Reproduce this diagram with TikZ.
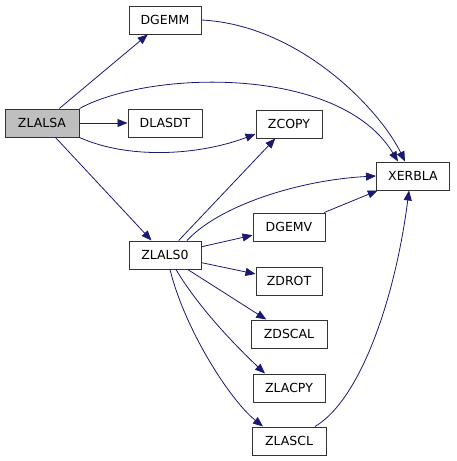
\documentclass[tikz,border=0pt]{standalone}
\usepackage{fontspec}
\setmainfont{DejaVu Sans}
\usetikzlibrary{arrows.meta}
\usetikzlibrary{calc}
\definecolor{callblue}{HTML}{191970}
\definecolor{rootgray}{HTML}{BFBFBF}

\begin{document}
\begin{tikzpicture}[x=1pt,y=-1pt]
  \tikzset{fnbox/.style={minimum width=#1,minimum height=28pt,draw=black!80,line width=1pt,fill=white,
                         inner sep=0pt,font=\fontsize{12.5}{14}\selectfont},
           rootbox/.style={fnbox=#1,fill=rootgray},
           calls/.style={-{Triangle[length=10pt,width=8pt]},line width=0.8pt,callblue}}
  \useasboundingbox (0,0) rectangle (456,461);
  \node[rootbox=74pt] (zlalsa) at (42,123) {ZLALSA};
  \node[fnbox=72pt] (dgemm) at (165,20) {DGEMM};
  \node[fnbox=74pt] (dlasdt) at (165,123) {DLASDT};
  \node[fnbox=72pt] (zlals0) at (165,255) {ZLALS0};
  \node[fnbox=66pt] (zcopy) at (289,124) {ZCOPY};
  \node[fnbox=72pt] (dgemv) at (289,227) {DGEMV};
  \node[fnbox=66pt] (zdrot) at (289,281) {ZDROT};
  \node[fnbox=76pt] (zdscal) at (289,334) {ZDSCAL};
  \node[fnbox=72pt] (zlacpy) at (289,388) {ZLACPY};
  \node[fnbox=74pt] (zlascl) at (289,441) {ZLASCL};
  \node[fnbox=73pt] (xerbla) at (413,176) {XERBLA};

  \draw[calls] (zlalsa) -- (dgemm);
  \draw[calls] (zlalsa) -- (dlasdt);
  \draw[calls] (zlalsa) -- (zlals0);
  \draw[calls] (zlalsa.north east) .. controls (150,70) and (340,65) .. ([xshift=-15pt]xerbla.north);
  \draw[calls] (zlalsa.south east) .. controls (130,160) and (200,155) .. ([yshift=-10pt]zcopy.west);
  \draw[calls] (dgemm.east) .. controls (300,25) and (380,110) .. ([xshift=-8pt]xerbla.north);
  \draw[calls] (zlals0) -- (zcopy);
  \draw[calls] ([xshift=22pt]zlals0.north) .. controls (220,205) and (300,180) .. (xerbla.west);
  \draw[calls] (zlals0) -- (dgemv);
  \draw[calls] (zlals0) -- (zdrot);
  \draw[calls] (zlals0) -- (zdscal);
  \draw[calls] ([xshift=11pt]zlals0.south) .. controls (200,310) and (240,350) .. ([xshift=-24pt]zlacpy.north);
  \draw[calls] ([xshift=5pt]zlals0.south) .. controls (185,330) and (230,400) .. ([xshift=-26pt]zlascl.north);
  \draw[calls] (dgemv) -- (xerbla);
  \draw[calls] ([xshift=26pt]zlascl.north) .. controls (360,400) and (395,300) .. ([xshift=-4pt]xerbla.south);
\end{tikzpicture}
\end{document}
